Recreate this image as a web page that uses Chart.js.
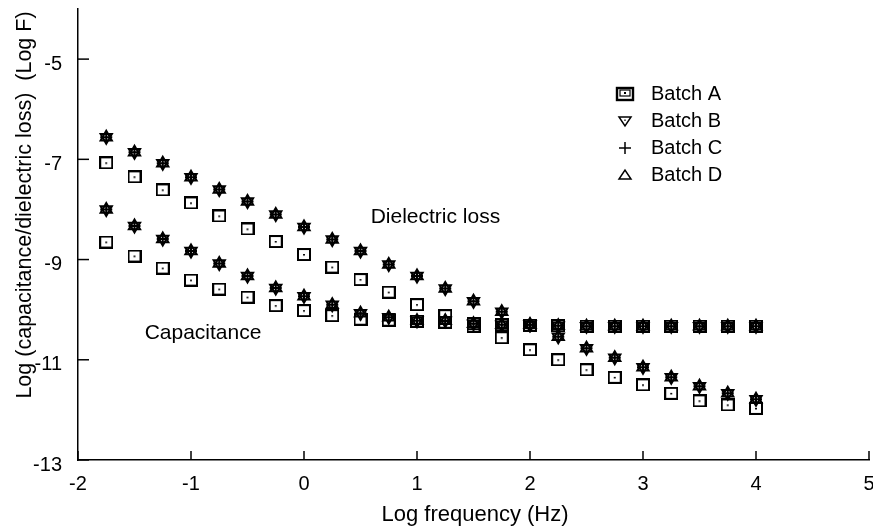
<!DOCTYPE html>
<html>
<head>
<meta charset="utf-8">
<script src="https://cdn.jsdelivr.net/npm/chart.js@4.4.0/dist/chart.umd.min.js"></script>
<style>
  body { margin: 0; background: #fff; }
  #wrap { width: 873px; height: 529px; }
</style>
</head>
<body>
<div id="wrap"><canvas id="chart" width="873" height="529"></canvas></div>
<script>
// Log frequency (Hz)
const freq = [-1.75, -1.5, -1.25, -1, -0.75, -0.5, -0.25, 0, 0.25, 0.5, 0.75, 1,
              1.25, 1.5, 1.75, 2, 2.25, 2.5, 2.75, 3, 3.25, 3.5, 3.75, 4];

// Capacitance (Log F)
const capA = [-8.65, -8.93, -9.17, -9.41, -9.59, -9.75, -9.92, -10.02, -10.12, -10.19, -10.21, -10.23,
              -10.25, -10.28, -10.3, -10.31, -10.32, -10.33, -10.33, -10.33, -10.33, -10.33, -10.33, -10.33];
// batches B, C and D sit on top of each other in the figure
const capBCD = [-8.0, -8.33, -8.59, -8.83, -9.08, -9.33, -9.57, -9.73, -9.9, -10.07, -10.15, -10.22,
                -10.22, -10.28, -10.3, -10.3, -10.32, -10.33, -10.33, -10.33, -10.33, -10.33, -10.33, -10.33];

// Dielectric loss
const lossA = [-7.07, -7.35, -7.61, -7.87, -8.13, -8.39, -8.64, -8.9, -9.15, -9.4, -9.65, -9.9,
               -10.12, -10.33, -10.56, -10.8, -11.0, -11.2, -11.35, -11.5, -11.67, -11.82, -11.9, -11.97];
const lossBCD = [-6.56, -6.86, -7.08, -7.36, -7.6, -7.84, -8.1, -8.35, -8.6, -8.83, -9.1, -9.33,
                 -9.58, -9.83, -10.04, -10.3, -10.54, -10.77, -10.96, -11.15, -11.35, -11.53, -11.67, -11.79];

const batches = ['Batch A', 'Batch B', 'Batch C', 'Batch D'];
const xTicks = [-2, -1, 0, 1, 2, 3, 4, 5];
const yTicks = [-13, -11, -9, -7, -5];

const FONT = '"Liberation Sans", Arial, Helvetica, sans-serif';

// square with a dot in the middle (Batch A)
function squareMarker() {
    const c = document.createElement('canvas');
    c.width = 14; c.height = 13;
    const g = c.getContext('2d');
    g.strokeStyle = '#000';
    g.lineWidth = 2;
    g.strokeRect(1, 1, 12, 11);
    g.fillStyle = '#000';
    g.fillRect(6, 6, 2, 1.5);
    return c;
}
const sq = squareMarker();

function pts(ys) {
    return freq.map((x, i) => ({ x: x, y: ys[i] }));
}

function batchSet(label, ys, style) {
    const base = {
        label: label,
        data: pts(ys),
        showLine: false,
        borderColor: '#000',
        backgroundColor: 'rgba(0,0,0,0)',
        borderWidth: 2,
        pointRadius: 6.5,
        pointHoverRadius: 6.5
    };
    if (style === 'A') { base.pointStyle = sq; }
    if (style === 'B') { base.pointStyle = 'triangle'; base.rotation = 180; }
    if (style === 'C') { base.pointStyle = 'cross'; base.pointRadius = 6; }
    if (style === 'D') { base.pointStyle = 'triangle'; }
    return base;
}

// ticks inside the axes, texts, legend and axis titles
const extras = {
    id: 'extras',
    afterDraw(chart) {
        const ctx = chart.ctx;
        const xs = chart.scales.x, ys = chart.scales.y;
        const area = chart.chartArea;
        ctx.save();
        ctx.strokeStyle = '#000';
        ctx.lineWidth = 1.5;
        xs.ticks.forEach(t => {
            const px = xs.getPixelForValue(t.value);
            ctx.beginPath();
            ctx.moveTo(px, area.bottom);
            ctx.lineTo(px, area.bottom - 9);
            ctx.stroke();
        });
        ys.ticks.forEach(t => {
            const py = ys.getPixelForValue(t.value);
            ctx.beginPath();
            ctx.moveTo(area.left, py);
            ctx.lineTo(area.left + 11, py);
            ctx.stroke();
        });

        ctx.fillStyle = '#000';
        ctx.font = '21px ' + FONT;
        ctx.textAlign = 'left';
        ctx.textBaseline = 'middle';
        ctx.fillText('Dielectric loss', xs.getPixelForValue(0.59), ys.getPixelForValue(-8.16));
        ctx.fillText('Capacitance', xs.getPixelForValue(-1.41), ys.getPixelForValue(-10.46));

        // legend
        const lx = 625, ly = [94, 121, 148, 175];
        ctx.font = '20px ' + FONT;
        batches.forEach((b, i) => {
            ctx.fillText(b, 651, ly[i]);
        });
        // A
        ctx.lineWidth = 2.4;
        ctx.strokeRect(lx - 8, ly[0] - 6, 16, 12);
        ctx.lineWidth = 1.2;
        ctx.strokeRect(lx - 5, ly[0] - 4, 10, 6);
        ctx.fillRect(lx - 1, ly[0] - 2, 2, 2);
        // B
        ctx.lineWidth = 1.5;
        ctx.beginPath();
        ctx.moveTo(lx - 6, ly[1] - 4);
        ctx.lineTo(lx + 6, ly[1] - 4);
        ctx.lineTo(lx, ly[1] + 5);
        ctx.closePath();
        ctx.stroke();
        ctx.fillRect(lx - 0.7, ly[1] - 1.5, 1.4, 1.4);
        // C
        ctx.beginPath();
        ctx.moveTo(lx - 6, ly[2]);
        ctx.lineTo(lx + 6, ly[2]);
        ctx.moveTo(lx, ly[2] - 6);
        ctx.lineTo(lx, ly[2] + 6);
        ctx.stroke();
        // D
        ctx.beginPath();
        ctx.moveTo(lx - 6, ly[3] + 4);
        ctx.lineTo(lx + 6, ly[3] + 4);
        ctx.lineTo(lx, ly[3] - 5);
        ctx.closePath();
        ctx.stroke();

        // axis titles
        ctx.textAlign = 'center';
        ctx.font = '22px ' + FONT;
        ctx.fillText('Log frequency (Hz)', 475, 515);
        ctx.save();
        ctx.translate(25, 205);
        ctx.rotate(-Math.PI / 2);
        ctx.font = '21.5px ' + FONT;
        ctx.fillText('Log (capacitance/dielectric loss)  (Log F)', 0, 0);
        ctx.restore();
        ctx.restore();
    }
};

new Chart(document.getElementById('chart'), {
    type: 'scatter',
    data: {
        datasets: [
            batchSet('Batch A', capA, 'A'),
            batchSet('Batch B', capBCD, 'B'),
            batchSet('Batch C', capBCD, 'C'),
            batchSet('Batch D', capBCD, 'D'),
            batchSet('Batch A', lossA, 'A'),
            batchSet('Batch B', lossBCD, 'B'),
            batchSet('Batch C', lossBCD, 'C'),
            batchSet('Batch D', lossBCD, 'D')
        ]
    },
    options: {
        responsive: false,
        devicePixelRatio: 1,
        animation: false,
        layout: { autoPadding: false, padding: { left: 0, right: 4, top: 9, bottom: 0 } },
        plugins: { legend: { display: false }, tooltip: { enabled: false } },
        scales: {
            x: {
                type: 'linear',
                min: -2, max: 5,
                afterBuildTicks: s => { s.ticks = xTicks.map(v => ({ value: v })); },
                afterFit: s => { s.height = 69; s.paddingLeft = 0; s.paddingRight = 0; },
                grid: { display: false, drawTicks: false },
                border: { display: true, color: '#000', width: 1.5 },
                ticks: { color: '#000', font: { family: FONT, size: 20 }, padding: 12, maxRotation: 0 }
            },
            y: {
                type: 'linear',
                min: -13, max: -4,
                afterBuildTicks: s => { s.ticks = yTicks.map(v => ({ value: v })); },
                afterFit: s => { s.width = 78; s.paddingTop = 0; s.paddingBottom = 0; },
                grid: { display: false, drawTicks: false },
                border: { display: true, color: '#000', width: 1.5 },
                ticks: { color: '#000', font: { family: FONT, size: 20 }, padding: 16, labelOffset: 5 }
            }
        }
    },
    plugins: [extras]
});
</script>
</body>
</html>
